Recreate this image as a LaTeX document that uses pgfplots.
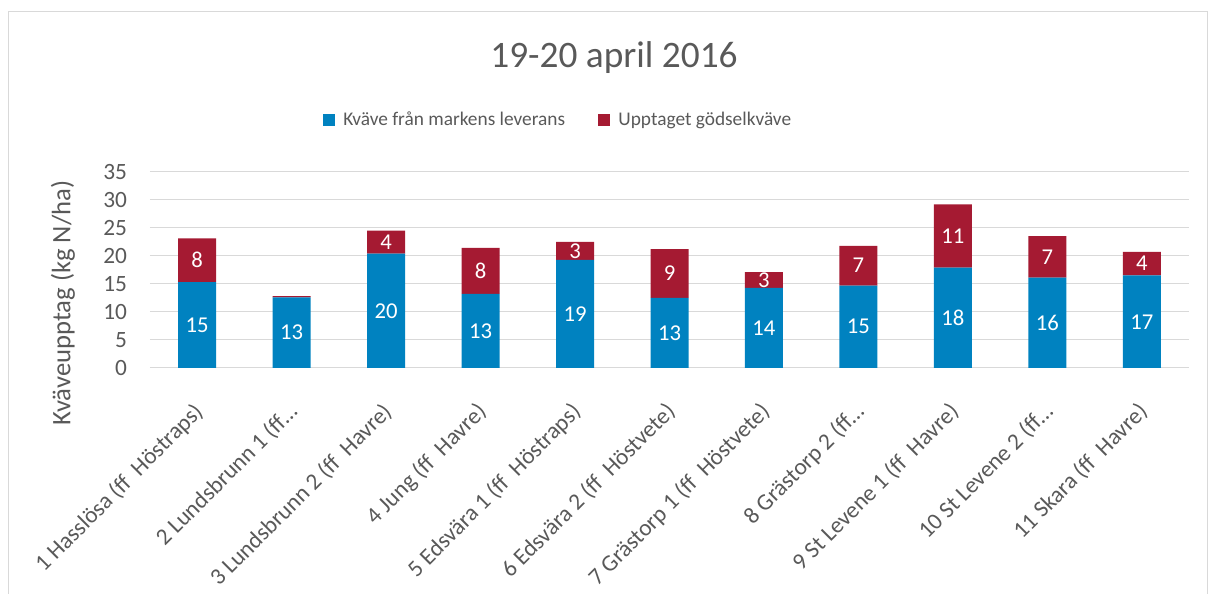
\documentclass[border=0pt]{standalone}
\usepackage{pgfplots}
\pgfplotsset{compat=1.18}
\usepackage{pgfplotstable}
\usepackage{fontspec}
\setmainfont{Carlito}
\definecolor{cblue}{HTML}{0082C0}
\definecolor{cred}{HTML}{A51A32}
\definecolor{ctext}{HTML}{595959}
\definecolor{cgrid}{HTML}{D9D9D9}
\pgfplotstableread{
x b r bl rl
1 15.3 7.8 15 8
2 12.6 0.2 13 {}
3 20.4 4.1 20 4
4 13.2 8.2 13 8
5 19.3 3.2 19 3
6 12.5 8.7 13 9
7 14.3 2.8 14 3
8 14.7 7.1 15 7
9 17.9 11.3 18 11
10 16.1 7.4 16 7
11 16.5 4.2 17 4
}\data
\begin{document}
\begin{tikzpicture}
\path (0,0) rectangle (906pt,445.5pt);
\draw[cgrid, line width=0.75pt] (6.375pt,0pt) -- (6.375pt,436.9pt) -- (905.25pt,436.9pt) -- (905.25pt,0pt);
\node[text=ctext, font=\fontsize{28}{33}\selectfont] at (460.5pt,402pt) {19-20 april 2016};
\node[text=ctext, font=\fontsize{20}{24}\selectfont, rotate=90] at (47.25pt,218.25pt) {Kväveupptag (kg N/ha)};
\begin{axis}[
  at={(112.5pt,169.5pt)}, anchor=south west,
  scale only axis, width=779.25pt, height=147.2pt,
  ybar stacked, bar width=28.5pt,
  xmin=0.5, xmax=11.5, ymin=0, ymax=35,
  xtick=data,
  xticklabels={{1 Hasslösa (ff~~Höstraps)},{2 Lundsbrunn 1 (ff…},{3 Lundsbrunn 2 (ff~~Havre)},{4 Jung (ff~~Havre)},{5 Edsvära 1 (ff~~Höstraps)},{6 Edsvära 2 (ff~~Höstvete)},{7 Grästorp 1 (ff~~Höstvete)},{8 Grästorp 2 (ff…},{9 St Levene 1 (ff~~Havre)},{10 St Levene 2 (ff…},{11 Skara (ff~~Havre)}},
  ytick={0,5,...,35},
  ymajorgrids, grid style={cgrid, line width=0.75pt},
  axis line style={draw=none},
  major tick length=0pt,
  tick label style={font=\fontsize{17.5}{21}\selectfont, text=ctext},
  /pgf/number format/assume math mode=true,
  yticklabel style={inner sep=0pt, xshift=-17pt},
  xticklabel style={rotate=45, anchor=north east, inner sep=0pt, yshift=-14.5pt, xshift=-20pt},
  legend columns=2,
  legend style={at={(0.1665,1.2634)}, anchor=west, draw=none, fill=none, inner sep=0pt,
    font=\fontsize{14.5}{17}\selectfont, text=ctext,
    /tikz/every odd column/.append style={column sep=4pt},
    /tikz/every even column/.append style={column sep=23pt}},
  legend image code/.code={\fill[#1] (0pt,-4.5pt) rectangle (9pt,4.5pt);},
  clip=false,
]
\addplot[fill=cblue, draw=none] table[x=x, y=b] {\data};
\addlegendentry{Kväve från markens leverans}
\addplot[fill=cred, draw=none] table[x=x, y=r] {\data};
\addlegendentry{Upptaget gödselkväve}
\end{axis}
\begin{axis}[
  at={(112.5pt,169.5pt)}, anchor=south west,
  scale only axis, width=779.25pt, height=147.2pt,
  xmin=0.5, xmax=11.5, ymin=0, ymax=35,
  hide axis, clip=false,
]
\addplot[draw=none, mark=none, nodes near coords, point meta=explicit symbolic,
  nodes near coords style={anchor=center, text=white, font=\fontsize{17}{20}\selectfont}]
  table[x=x, y expr=\thisrow{b}/2, meta=bl] {\data};
\addplot[draw=none, mark=none, nodes near coords, point meta=explicit symbolic,
  nodes near coords style={anchor=center, text=white, font=\fontsize{17}{20}\selectfont}]
  table[x=x, y expr=\thisrow{b}+\thisrow{r}/2, meta=rl] {\data};
\end{axis}
\end{tikzpicture}
\end{document}
